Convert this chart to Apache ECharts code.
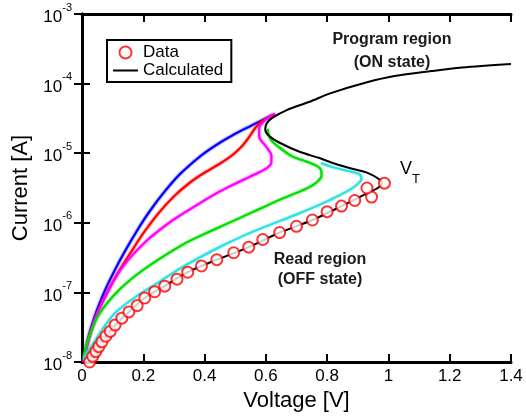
<!DOCTYPE html>
<html>
<head>
<meta charset="utf-8">
<script src="https://cdn.jsdelivr.net/npm/echarts@6/dist/echarts.min.js"></script>
<style>
  html, body { margin: 0; padding: 0; background: #fff; }
  #chart { width: 526px; height: 419px; }
</style>
</head>
<body>
<div id="chart"></div>
<script>
// Voltage in volts; current stored as log10(I / A) and converted for the log axis.
const measuredV    = [0.025, 0.035, 0.045, 0.055, 0.065, 0.078, 0.092, 0.108, 0.13, 0.153, 0.18, 0.205, 0.237, 0.27, 0.31, 0.345, 0.39, 0.44, 0.495, 0.544, 0.59, 0.645, 0.70, 0.752, 0.80, 0.847, 0.89, 0.945, 0.93, 0.987];
const measuredLogI = [-8.0, -7.92, -7.85, -7.78, -7.71, -7.63, -7.56, -7.47, -7.37, -7.28, -7.19, -7.08, -6.99, -6.91, -6.81, -6.71, -6.62, -6.53, -6.43, -6.35, -6.24, -6.14, -6.05, -5.96, -5.84, -5.76, -5.68, -5.63, -5.50, -5.43];

const calcV    = [0.02, 0.035, 0.055, 0.078, 0.108, 0.153, 0.205, 0.27, 0.345, 0.44, 0.544, 0.645, 0.752, 0.847, 0.92, 0.965, 0.978, 0.975, 0.93, 0.87, 0.818, 0.775, 0.71, 0.645, 0.61, 0.598, 0.603, 0.622, 0.668, 0.743, 0.81, 0.93, 1.02, 1.14, 1.24, 1.4];
const calcLogI = [-8.0, -7.92, -7.78, -7.63, -7.47, -7.28, -7.08, -6.91, -6.71, -6.53, -6.35, -6.14, -5.96, -5.76, -5.6, -5.5, -5.44, -5.39, -5.28, -5.21, -5.14, -5.07, -4.98, -4.85, -4.75, -4.66, -4.57, -4.49, -4.38, -4.26, -4.14, -3.98, -3.89, -3.82, -3.77, -3.72];

const blueV    = [0.005, 0.015, 0.03, 0.05, 0.075, 0.107, 0.14, 0.18, 0.22, 0.27, 0.32, 0.384, 0.435, 0.492, 0.55, 0.60, 0.625];
const blueLogI = [-8.0, -7.75, -7.5, -7.24, -6.97, -6.68, -6.41, -6.11, -5.84, -5.55, -5.3, -5.05, -4.89, -4.74, -4.61, -4.5, -4.45];

const redV    = [0.005, 0.015, 0.03, 0.055, 0.085, 0.12, 0.16, 0.20, 0.25, 0.30, 0.35, 0.40, 0.45, 0.49, 0.52, 0.545, 0.565, 0.585, 0.61, 0.63];
const redLogI = [-8.0, -7.78, -7.55, -7.25, -6.98, -6.7, -6.42, -6.15, -5.86, -5.62, -5.43, -5.28, -5.15, -5.03, -4.91, -4.77, -4.64, -4.55, -4.48, -4.44];

const magentaV    = [0.005, 0.015, 0.03, 0.05, 0.088, 0.125, 0.17, 0.218, 0.26, 0.30, 0.384, 0.45, 0.49, 0.547, 0.58, 0.605, 0.618, 0.618, 0.60, 0.578, 0.578, 0.592, 0.61, 0.63];
const magentaLogI = [-8.0, -7.8, -7.55, -7.3, -6.95, -6.68, -6.44, -6.23, -6.08, -5.95, -5.72, -5.55, -5.46, -5.34, -5.27, -5.21, -5.13, -5.03, -4.9, -4.76, -4.64, -4.55, -4.48, -4.44];

const greenV    = [0.005, 0.023, 0.055, 0.12, 0.205, 0.326, 0.40, 0.47, 0.54, 0.60, 0.655, 0.70, 0.74, 0.768, 0.782, 0.78, 0.765, 0.72, 0.687, 0.645, 0.615, 0.606];
const greenLogI = [-7.93, -7.64, -7.32, -6.97, -6.66, -6.32, -6.16, -6.02, -5.88, -5.76, -5.65, -5.57, -5.49, -5.41, -5.32, -5.24, -5.18, -5.1, -5.05, -4.92, -4.8, -4.65];

const cyanV    = [0.005, 0.012, 0.033, 0.065, 0.107, 0.173, 0.245, 0.326, 0.435, 0.51, 0.59, 0.70, 0.765, 0.81, 0.86, 0.895, 0.912, 0.905, 0.873, 0.818, 0.78];
const cyanLogI = [-7.97, -7.9, -7.76, -7.54, -7.3, -7.07, -6.87, -6.64, -6.38, -6.22, -6.07, -5.88, -5.76, -5.67, -5.56, -5.46, -5.37, -5.3, -5.26, -5.2, -5.14];

const yDecades = [-8, -7, -6, -5, -4, -3];
const xTicks   = [0, 0.2, 0.4, 0.6, 0.8, 1, 1.2, 1.4];

const FONT = '"Liberation Sans", Arial, Helvetica, sans-serif';

const toPoints = (v, logI) => v.map((x, i) => [x, Math.pow(10, logI[i])]);

function curve(name, v, logI, color, z, blur) {
  return {
    name: name,
    type: 'line',
    data: toPoints(v, logI),
    symbol: 'none',
    smooth: 0.3,
    smoothMonotone: null,
    z: z,
    lineStyle: { color: color, width: 2, shadowColor: color, shadowBlur: blur },
    itemStyle: { color: color },
    silent: true,
    animation: false
  };
}

const tickStyle = { show: true, inside: true, length: 8, lineStyle: { color: '#000', width: 2 } };
const lineStyleAxis = { show: true, lineStyle: { color: '#000', width: 3 } };

const chart = echarts.init(document.getElementById('chart'), null, { renderer: 'canvas' });

chart.setOption({
  backgroundColor: '#fff',
  animation: false,
  textStyle: { fontFamily: FONT },
  grid: { left: 82, right: 15, top: 14, bottom: 57, containLabel: false },
  legend: {
    orient: 'vertical',
    left: 107,
    top: 40,
    padding: [4, 8, 3, 5],
    itemGap: 1,
    itemWidth: 25,
    itemHeight: 12,
    borderColor: '#000',
    borderWidth: 2,
    backgroundColor: '#fff',
    textStyle: { fontFamily: FONT, fontSize: 17, color: '#000' },
    data: [
      { name: 'Data', icon: 'circle', itemStyle: { color: '#fff', borderColor: '#ff0000', borderWidth: 2 } },
      { name: 'Calculated', itemStyle: { color: 'rgba(0,0,0,0)', borderColor: 'rgba(0,0,0,0)', borderWidth: 0 },
        lineStyle: { color: '#000', width: 2 } }
    ]
  },
  xAxis: [
    {
      type: 'value', min: xTicks[0], max: xTicks[xTicks.length - 1], interval: 0.2,
      position: 'bottom',
      axisLine: lineStyleAxis, axisTick: tickStyle, splitLine: { show: false },
      axisLabel: { color: '#000', fontSize: 17, fontFamily: FONT, margin: 6,
        formatter: v => String(Math.round(v * 10) / 10) },
      name: 'Voltage [V]', nameLocation: 'middle', nameGap: 27,
      nameTextStyle: { fontSize: 22, color: '#000', fontFamily: FONT }
    },
    {
      type: 'value', min: xTicks[0], max: xTicks[xTicks.length - 1], interval: 0.2,
      position: 'top',
      axisLine: lineStyleAxis, axisTick: tickStyle, splitLine: { show: false },
      axisLabel: { show: false }
    }
  ],
  yAxis: [
    {
      type: 'log', logBase: 10,
      min: Math.pow(10, yDecades[0]), max: Math.pow(10, yDecades[yDecades.length - 1]),
      position: 'left',
      axisLine: lineStyleAxis, axisTick: tickStyle, minorTick: { show: false },
      splitLine: { show: false },
      axisLabel: {
        color: '#000', margin: 10, fontFamily: FONT,
        formatter: v => '{b|10}{s|' + Math.round(Math.log10(v)) + '}',
        rich: {
          b: { fontSize: 17, fontFamily: FONT, color: '#000', verticalAlign: 'bottom', lineHeight: 24 },
          s: { fontSize: 11, fontFamily: FONT, color: '#000', verticalAlign: 'top', lineHeight: 24 }
        }
      },
      name: 'Current [A]', nameLocation: 'middle', nameGap: 50, nameRotate: 90,
      nameTextStyle: { fontSize: 22, color: '#000', fontFamily: FONT }
    },
    {
      type: 'log', logBase: 10,
      min: Math.pow(10, yDecades[0]), max: Math.pow(10, yDecades[yDecades.length - 1]),
      position: 'right',
      axisLine: lineStyleAxis, axisTick: tickStyle, minorTick: { show: false },
      splitLine: { show: false },
      axisLabel: { show: false }
    }
  ],
  series: [
    curve('blue', blueV, blueLogI, '#0000ff', 2, 2),
    curve('red', redV, redLogI, '#ff0000', 3, 2),
    curve('magenta', magentaV, magentaLogI, '#ff00ff', 4, 2),
    curve('green', greenV, greenLogI, '#00dd00', 5, 2),
    curve('cyan', cyanV, cyanLogI, '#30e0e0', 6, 2),
    curve('Calculated', calcV, calcLogI, '#000000', 7, 0),
    {
      name: 'Data',
      type: 'scatter',
      data: toPoints(measuredV, measuredLogI),
      symbol: 'circle',
      symbolSize: 11,
      clip: false,
      z: 8,
      itemStyle: { color: '#fff', borderColor: '#ff0000', borderWidth: 2 },
      silent: true
    }
  ],
  graphic: [
    { type: 'text', x: 392, y: 40, style: { text: 'Program region', align: 'center', verticalAlign: 'middle', font: 'bold 16px ' + FONT, fill: '#1a1a1a' } },
    { type: 'text', x: 392, y: 63, style: { text: '(ON state)', align: 'center', verticalAlign: 'middle', font: 'bold 16px ' + FONT, fill: '#1a1a1a' } },
    { type: 'text', x: 320, y: 260, style: { text: 'Read region', align: 'center', verticalAlign: 'middle', font: 'bold 16px ' + FONT, fill: '#1a1a1a' } },
    { type: 'text', x: 320, y: 280, style: { text: '(OFF state)', align: 'center', verticalAlign: 'middle', font: 'bold 16px ' + FONT, fill: '#1a1a1a' } },
    { type: 'text', x: 400, y: 160, style: {
        text: '{v|V}{t|T}',
        rich: {
          v: { fontSize: 18, fontFamily: FONT, fill: '#000', verticalAlign: 'top', lineHeight: 26 },
          t: { fontSize: 13, fontFamily: FONT, fill: '#000', verticalAlign: 'bottom', lineHeight: 26 }
        }
      } }
  ]
});
</script>
</body>
</html>
